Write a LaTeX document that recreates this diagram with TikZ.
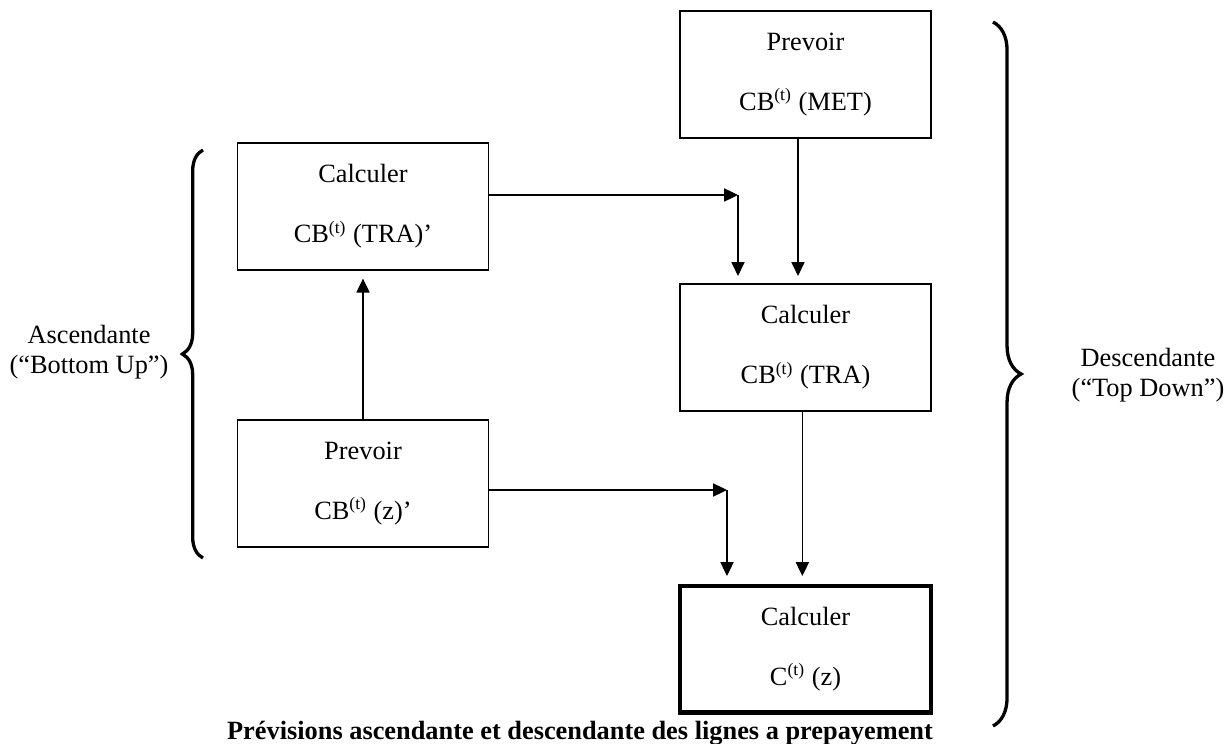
\documentclass[tikz,border=0pt]{standalone}
\usepackage{fontspec}
\setmainfont{Liberation Serif}
\usetikzlibrary{arrows.meta,decorations.pathreplacing}
\tikzset{
	box/.style={draw,line width=0.6pt,minimum width=4.02cm,minimum height=2.03cm,align=center,inner sep=0pt},
	arr/.style={line width=0.5pt,-{Triangle[length=6.3pt,width=6pt]}},
	accolade/.style={decorate,decoration={brace,amplitude=#1},line width=1.5pt},
}
\newcommand{\cbt}[1]{CB\textsuperscript{(t)} (#1)}
\begin{document}
\begin{tikzpicture}[x=0.016cm,y=-0.016cm,font=\fontsize{12}{13.8}\selectfont]
	\useasboundingbox (0,0) rectangle (1225,744);
	\node[box] (calcA) at (363,206.5) {Calculer\\[13.5pt]\cbt{TRA}'};
	\node[box] (prevZ) at (363,483.5) {Prevoir\\[13.5pt]\cbt{z}'};
	\node[box] (prevM) at (805.5,74.5) {Prevoir\\[13.5pt]\cbt{MET}};
	\node[box] (calcT) at (805.5,347.5) {Calculer\\[13.5pt]\cbt{TRA}};
	\node[box,line width=1.9pt] (calcC) at (805.5,649) {Calculer\\[13.5pt]C\textsuperscript{(t)} (z)};
	\coordinate (kA) at (738,195);
	\coordinate (kZ) at (727,490);
	\draw[arr] (calcA.east |- kA) -- (kA);
	\draw[arr,shorten >=0.12cm] (kA) -- (kA |- calcT.north);
	\draw[arr,shorten >=0.12cm] ([xshift=-0.12cm]prevM.south) -- ([xshift=-0.12cm]calcT.north);
	\draw[arr] (prevZ.east |- kZ) -- (kZ);
	\draw[arr,shorten >=0.12cm] (kZ) -- (kZ |- calcC.north);
	\draw[arr,shorten >=0.12cm] ([xshift=-0.05cm]calcT.south) -- ([xshift=-0.05cm]calcC.north);
	\draw[arr,shorten >=0.13cm] (prevZ) -- (calcA);
	\draw[accolade=0.33cm] (203,558) -- (203,150);
	\draw[accolade=0.45cm] (993,22) -- (993,726);
	\node[align=center] (asc) at (89,352) {Ascendante\\(``Bottom Up'')};
	\node[align=center] (desc) at (1148,375) {Descendante\\(``Top Down'')};
	\node[font=\fontsize{12}{13.8}\selectfont\bfseries] (titre) at (580,733) {Prévisions ascendante et descendante des lignes a prepayement};
\end{tikzpicture}
\end{document}
